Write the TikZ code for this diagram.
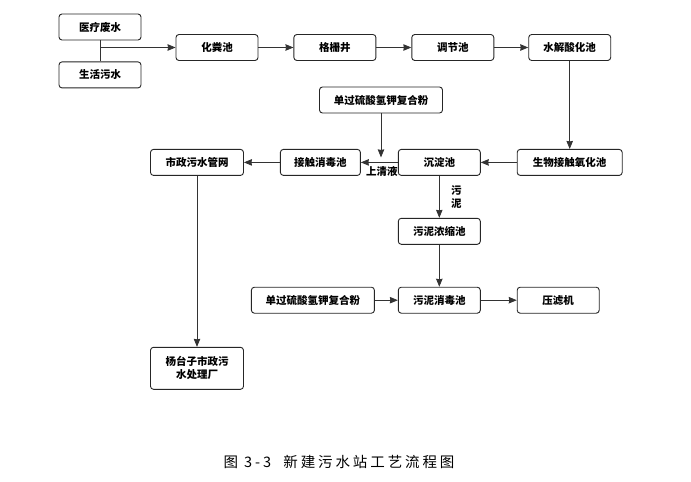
\documentclass[tikz,border=0pt]{standalone}
\usepackage{fontspec}
\setmainfont{Noto Sans CJK SC}
\usetikzlibrary{positioning,arrows.meta}
\tikzstyle{unit}=[rectangle, rounded corners=3pt, draw=black!85, line width=0.9pt, fill=white, text centered, minimum height=26pt, minimum width=82pt, inner sep=2pt, font=\fontsize{10.5pt}{13pt}\selectfont\bfseries]

\begin{document}
\begin{tikzpicture}[
        x=1pt, y=-1pt,
        node distance = 35pt,
        auto,
        line/.style={->, >={Stealth[length=8pt, width=6.5pt, inset=0.5pt]}, line width=0.8pt, draw=black!80},
      ]
      \useasboundingbox (0,0) rectangle (691,482);
      \node (Yiliao) [unit] at (100,27)
            {
              医疗废水
            };
      \node (Shenghuo) [unit, below=21pt of Yiliao]
            {
              生活污水
            };
      \node (Huafen) [unit] at (217,47.5)
            {
              化粪池
            };
      \node (Gezha) [unit, right=35pt of Huafen]
            {
              格栅井
            };
      \node (Tiaojie) [unit, right=35pt of Gezha]
            {
              调节池
            };
      \node (Shuijie) [unit, right=34pt of Tiaojie]
            {
              水解酸化池
            };
      \node (Shengwu) [unit, minimum width=105pt, below=88pt of Shuijie]
            {
              生物接触氧化池
            };
      \node (Chendian) [unit, left=36pt of Shengwu]
            {
              沉淀池
            };
      \node (Jiechu) [unit, minimum width=80pt, left=37pt of Chendian]
            {
              接触消毒池
            };
      \node (Shizheng) [unit, minimum width=93pt, left=36pt of Jiechu]
            {
              市政污水管网
            };
      \node (Yaoji) [unit, minimum width=123pt] at (381,100)
            {
              单过硫酸氢钾复合粉
            };
      \node (Nongsuo) [unit, below=42pt of Chendian]
            {
              污泥浓缩池
            };
      \node (Xiaodu) [unit, below=42pt of Nongsuo]
            {
              污泥消毒池
            };
      \node (YaojiB) [unit, minimum width=123pt, left=23pt of Xiaodu]
            {
              单过硫酸氢钾复合粉
            };
      \node (Yalvji) [unit, right=36pt of Xiaodu]
            {
              压滤机
            };
      \node (Yangtaizi) [unit, minimum width=93pt, minimum height=42pt, align=center, below=171pt of Shizheng]
            {
              杨台子市政污\\水处理厂
            };
      \node (Caption) [font=\fontsize{14.5pt}{16pt}\selectfont\addfontfeatures{LetterSpace=20}] at (339,462)
            {
              图 3-3\ \ 新建污水站工艺流程图
            };
      \coordinate (Hui) at (Yiliao.south |- Huafen.west);
      \coordinate (Jia) at (Yaoji.south |- Chendian.west);
      \draw [line, -] (Yiliao) to (Shenghuo);
      \draw [line] (Hui) to (Huafen);
      \draw [line] (Huafen) to (Gezha);
      \draw [line] (Gezha) to (Tiaojie);
      \draw [line] (Tiaojie) to (Shuijie);
      \draw [line] (Shuijie) to (Shengwu);
      \draw [line] (Shengwu) to (Chendian);
      \draw [line] (Chendian) to node [pos=0.43, below=0pt, font=\fontsize{10.5pt}{13pt}\selectfont\bfseries] {上清液} (Jiechu);
      \draw [line, shorten >=5pt] (Yaoji) to (Jia);
      \draw [line] (Jiechu) to (Shizheng);
      \draw [line] (Chendian) to node [right=8pt, align=center, font=\fontsize{10.5pt}{13pt}\selectfont\bfseries] {污\\泥} (Nongsuo);
      \draw [line] (Nongsuo) to (Xiaodu);
      \draw [line] (YaojiB) to (Xiaodu);
      \draw [line] (Xiaodu) to (Yalvji);
      \draw [line] (Shizheng) to (Yangtaizi);
    \end{tikzpicture}
\end{document}
